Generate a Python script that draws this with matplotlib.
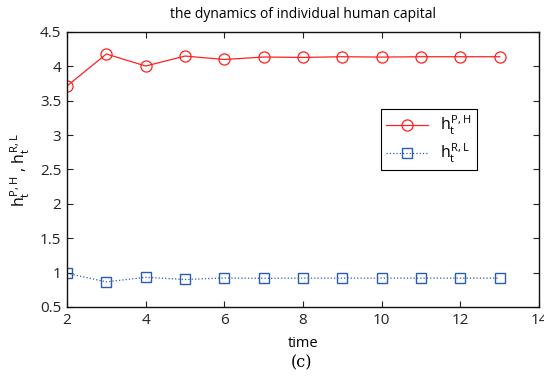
import matplotlib
matplotlib.use("Agg")
import matplotlib.pyplot as plt

t = [2, 3, 4, 5, 6, 7, 8, 9, 10, 11, 12, 13]
h_ph = [3.715, 4.18, 4.005, 4.15, 4.10, 4.136, 4.13, 4.14, 4.135, 4.14, 4.14, 4.14]
h_rl = [0.99, 0.865, 0.932, 0.90, 0.922, 0.917, 0.92, 0.92, 0.92, 0.92, 0.92, 0.92]

plt.rcParams['font.family'] = ['Open Sans', 'DejaVu Sans']
plt.rcParams['mathtext.fontset'] = 'custom'
plt.rcParams['mathtext.rm'] = 'Open Sans'
plt.rcParams['mathtext.it'] = 'Open Sans'

fig = plt.figure(figsize=(5.44, 3.79), dpi=100)
ax = fig.add_axes([0.1232, 0.19, 0.8676, 0.7256])

ax.plot(t, h_ph, '-', color='#ff2020', marker='o', markersize=8, markerfacecolor='none',
        markeredgewidth=0.9, linewidth=0.9, label=r'$h_t^{P,H}$')
ax.plot(t, h_rl, ':', color='#2a5cb0', marker='s', markersize=6.5, markerfacecolor='none',
        markeredgewidth=1.0, linewidth=0.9, label=r'$h_t^{R,L}$')

ax.set_xlim(2, 14)
ax.set_ylim(0.5, 4.5)
ax.set_xticks([2, 4, 6, 8, 10, 12, 14])
ax.set_yticks([0.5, 1, 1.5, 2, 2.5, 3, 3.5, 4, 4.5])
ax.set_yticklabels(['0.5', '1', '1.5', '2', '2.5', '3', '3.5', '4', '4.5'])
ax.tick_params(direction='in', top=True, right=True, labelsize=11, length=4, width=0.8,
               colors='#222222', pad=4)
for s in ax.spines.values():
    s.set_linewidth(1.0)
    s.set_color('#111111')

ax.set_title('the dynamics of individual human capital', fontsize=10, pad=10)
ax.set_xlabel('time', fontsize=10.5, labelpad=6)
ax.set_ylabel(r'$h_t^{P,H}$ , $h_t^{R,L}$', fontsize=11.5, labelpad=6)

leg = ax.legend(loc='upper left', bbox_to_anchor=(0.649, 0.75), fontsize=11.5, fancybox=False,
                edgecolor='black', framealpha=1, handlelength=2.6, borderpad=0.3, labelspacing=0.3)
leg.get_frame().set_linewidth(0.8)

fig.text(0.555, 0.03, '(c)', fontsize=11.5, family='DejaVu Serif', ha='center')

fig.savefig('out.png', dpi=100)
